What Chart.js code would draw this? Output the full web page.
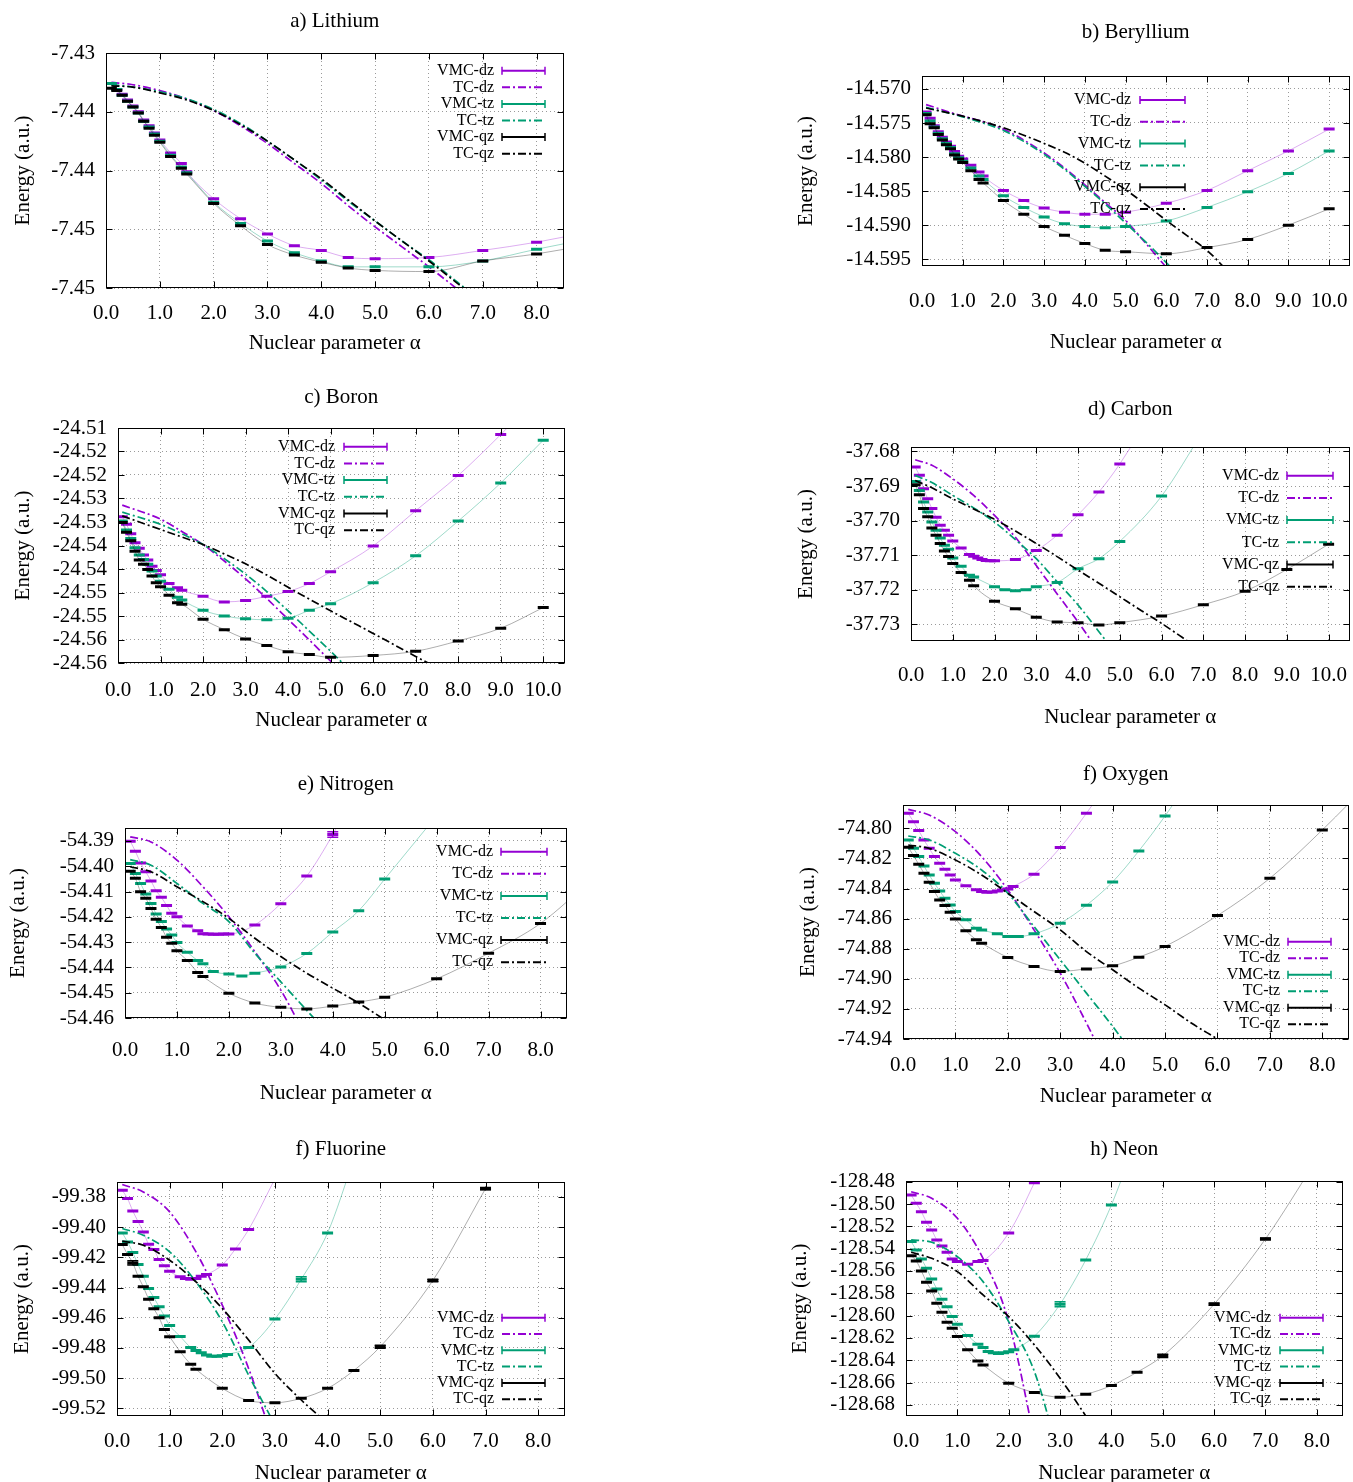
<!DOCTYPE html>
<html>
<head>
<meta charset="utf-8">
<script src="https://cdn.jsdelivr.net/npm/chart.js@4.4.1/dist/chart.umd.min.js"></script>
<style>
html, body { margin: 0; padding: 0; background: #fff; overflow: hidden; }
body { width: 1353px; height: 1482px; position: relative; }
canvas { position: absolute; }
</style>
</head>
<body>
<script>
// ---- tick labels ----
const x8Ticks = [0, 1, 2, 3, 4, 5, 6, 7, 8];
const x8Labels = ['0.0', '1.0', '2.0', '3.0', '4.0', '5.0', '6.0', '7.0', '8.0'];
const x10Ticks = [0, 1, 2, 3, 4, 5, 6, 7, 8, 9, 10];
const x10Labels = ['0.0', '1.0', '2.0', '3.0', '4.0', '5.0', '6.0', '7.0', '8.0', '9.0', '10.0'];

// ---- a) Lithium ----
const liAlpha = [0.1,0.2,0.3,0.4,0.5,0.6,0.7,0.8,0.9,1.0,1.2,1.4,1.5,2.0,2.5,3.0,3.5,4.0,4.5,5.0,6.0,7.0,8.0,9.0];
const liDz = [-7.4326,-7.4331,-7.4335,-7.4340,-7.4345,-7.4350,-7.4357,-7.4362,-7.4368,-7.4374,-7.4385,-7.4394,-7.4401,-7.4424,-7.4441,-7.4454,-7.4464,-7.4468,-7.4474,-7.4475,-7.4474,-7.4468,-7.4461,-7.4452];
const liTz = [-7.4326,-7.4331,-7.4336,-7.4341,-7.4346,-7.4351,-7.4358,-7.4363,-7.4369,-7.4375,-7.4387,-7.4397,-7.4402,-7.4427,-7.4445,-7.4460,-7.4470,-7.4477,-7.4482,-7.4482,-7.4482,-7.4477,-7.4467,-7.4458];
const liQz = [-7.4330,-7.4332,-7.4336,-7.4341,-7.4346,-7.4351,-7.4358,-7.4364,-7.4370,-7.4376,-7.4388,-7.4398,-7.4403,-7.4428,-7.4447,-7.4463,-7.4472,-7.4478,-7.4483,-7.4485,-7.4486,-7.4477,-7.4471,-7.4463];
const liTcAlpha = [0.1,0.5,1.0,1.5,2.0,2.5,3.0,3.5,4.0,4.5,5.0,5.5,6.0,6.5,7.0];
const liTcDz = [-7.4325,-7.4327,-7.4332,-7.4339,-7.4349,-7.4362,-7.4377,-7.4394,-7.4411,-7.4430,-7.4448,-7.4465,-7.4482,-7.4500,-7.4518];
const liTcTz = [-7.4327,-7.4329,-7.4333,-7.4339,-7.4348,-7.4360,-7.4375,-7.4391,-7.4408,-7.4426,-7.4443,-7.4460,-7.4476,-7.4494,-7.4512];
const liTcQz = [-7.4328,-7.4329,-7.4334,-7.4340,-7.4349,-7.4361,-7.4375,-7.4391,-7.4407,-7.4425,-7.4443,-7.4460,-7.4477,-7.4495,-7.4513];
const liYTicks = [-7.450,-7.445,-7.440,-7.435,-7.430];
const liYLabels = ['-7.45','-7.45','-7.44','-7.44','-7.43'];

// ---- b) Beryllium ----
const beAlpha = [0.1,0.2,0.3,0.4,0.5,0.6,0.7,0.8,0.9,1.0,1.2,1.4,1.5,2.0,2.5,3.0,3.5,4.0,4.5,5.0,6.0,7.0,8.0,9.0,10.0];
const beDz = [-14.5734,-14.5743,-14.5754,-14.5763,-14.5771,-14.5778,-14.5784,-14.5792,-14.5799,-14.5803,-14.5812,-14.5822,-14.5828,-14.5849,-14.5864,-14.5875,-14.5881,-14.5884,-14.5884,-14.5881,-14.5868,-14.5849,-14.5820,-14.5791,-14.5759];
const beTz = [-14.5736,-14.5747,-14.5756,-14.5765,-14.5773,-14.5780,-14.5786,-14.5795,-14.5801,-14.5806,-14.5816,-14.5828,-14.5833,-14.5857,-14.5874,-14.5888,-14.5898,-14.5902,-14.5904,-14.5902,-14.5894,-14.5874,-14.5851,-14.5824,-14.5791];
const beQz = [-14.5738,-14.5751,-14.5757,-14.5767,-14.5775,-14.5782,-14.5788,-14.5797,-14.5803,-14.5808,-14.5820,-14.5833,-14.5838,-14.5864,-14.5884,-14.5902,-14.5915,-14.5927,-14.5937,-14.5939,-14.5942,-14.5933,-14.5921,-14.5900,-14.5876];
const beTcAlpha = [0.1,1.0,1.5,2.0,2.5,3.0,3.5,4.0,4.5,5.0,5.5,6.0,6.5,7.0,7.5];
const beTcDz = [-14.5723,-14.5740,-14.5748,-14.5759,-14.5775,-14.5794,-14.5816,-14.5841,-14.5867,-14.5893,-14.5927,-14.5962,-14.5995,-14.6030,-14.6065];
const beTcTz = [-14.5727,-14.5741,-14.5750,-14.5761,-14.5777,-14.5796,-14.5818,-14.5843,-14.5869,-14.5897,-14.5925,-14.5955,-14.5986,-14.6020,-14.6055];
const beTcQz = [-14.5728,-14.5740,-14.5748,-14.5757,-14.5768,-14.5780,-14.5793,-14.5809,-14.5828,-14.5848,-14.5870,-14.5893,-14.5915,-14.5937,-14.5967];
const beYTicks = [-14.595,-14.590,-14.585,-14.580,-14.575,-14.570];
const beYLabels = ['-14.595','-14.590','-14.585','-14.580','-14.575','-14.570'];

// ---- c) Boron ----
const bAlpha = [0.1,0.2,0.3,0.4,0.5,0.6,0.7,0.8,0.9,1.0,1.2,1.4,1.5,2.0,2.5,3.0,3.5,4.0,4.5,5.0,6.0,7.0,8.0,9.0,10.0];
const bDz = [-24.5289,-24.5305,-24.5325,-24.5344,-24.5356,-24.5370,-24.5381,-24.5394,-24.5403,-24.5412,-24.5431,-24.5440,-24.5445,-24.5458,-24.5470,-24.5467,-24.5458,-24.5448,-24.5431,-24.5406,-24.5351,-24.5276,-24.5201,-24.5114,-24.5020];
const bTz = [-24.5298,-24.5317,-24.5335,-24.5355,-24.5370,-24.5380,-24.5390,-24.5404,-24.5415,-24.5426,-24.5443,-24.5460,-24.5466,-24.5488,-24.5500,-24.5506,-24.5508,-24.5505,-24.5488,-24.5474,-24.5429,-24.5372,-24.5298,-24.5217,-24.5126];
const bQz = [-24.5301,-24.5322,-24.5340,-24.5362,-24.5381,-24.5390,-24.5401,-24.5415,-24.5429,-24.5438,-24.5456,-24.5472,-24.5475,-24.5507,-24.5529,-24.5549,-24.5563,-24.5576,-24.5582,-24.5588,-24.5584,-24.5575,-24.5553,-24.5526,-24.5482];
const bTcAlpha = [0.1,1.0,1.5,2.0,2.5,3.0,3.5,4.0,4.5,5.0,5.5,6.0,7.0,7.5];
const bTcDz = [-24.5264,-24.5294,-24.5320,-24.5348,-24.5383,-24.5421,-24.5463,-24.5507,-24.5551,-24.5596,-24.5640,-24.5685,-24.5775,-24.5820];
const bTcTz = [-24.5279,-24.5305,-24.5325,-24.5348,-24.5378,-24.5411,-24.5448,-24.5489,-24.5532,-24.5575,-24.5620,-24.5665,-24.5755,-24.5800];
const bTcQz = [-24.5287,-24.5316,-24.5332,-24.5348,-24.5368,-24.5389,-24.5413,-24.5439,-24.5464,-24.5489,-24.5513,-24.5537,-24.5586,-24.5610];
const bYTicks = [-24.560,-24.555,-24.550,-24.545,-24.540,-24.535,-24.530,-24.525,-24.520,-24.515,-24.510];
const bYLabels = ['-24.56','-24.56','-24.55','-24.55','-24.54','-24.54','-24.53','-24.53','-24.52','-24.52','-24.51'];

// ---- d) Carbon ----
const cAlpha = [0.1,0.2,0.3,0.4,0.5,0.6,0.7,0.8,0.9,1.0,1.2,1.4,1.5,1.6,1.7,1.8,1.9,2.0,2.25,2.5,2.75,3.0,3.5,4.0,4.5,5.0,6.0,7.0,8.0,9.0,10.0];
const cDz = [-37.6845,-37.6869,-37.6908,-37.6937,-37.6965,-37.6990,-37.7013,-37.7028,-37.7042,-37.7059,-37.7079,-37.7098,-37.7103,-37.7108,-37.7112,-37.7115,-37.7116,-37.7116,null,-37.7112,null,-37.7086,-37.7042,-37.6983,-37.6917,-37.6836,-37.6640,null,null,null,null];
const cTz = [-37.6887,-37.6913,-37.6946,-37.6975,-37.7004,-37.7028,-37.7050,-37.7071,-37.7083,-37.7108,-37.7132,-37.7158,-37.7163,null,null,null,null,-37.7191,-37.7200,-37.7203,-37.7200,-37.7191,-37.7179,-37.7139,-37.7110,-37.7060,-37.6929,-37.6740,null,null,null];
const cQz = [-37.6896,-37.6925,-37.6965,-37.6989,-37.7021,-37.7042,-37.7066,-37.7088,-37.7104,-37.7124,-37.7150,-37.7172,-37.7188,null,null,null,null,-37.7233,null,-37.7255,null,-37.7279,-37.7293,-37.7295,-37.7302,-37.7295,-37.7276,-37.7243,-37.7204,-37.7141,-37.7068];
const cTcAlpha = [0.1,0.5,1.0,1.5,2.0,2.5,3.0,3.5,4.0,4.5,5.0,5.5,6.0,6.5,7.0];
const cTcDz = [-37.6824,-37.6840,-37.6879,-37.6927,-37.6985,-37.7048,-37.7130,-37.7212,-37.7293,-37.7380,-37.7470,null,null,null,null];
const cTcTz = [-37.6869,-37.6890,-37.6927,-37.6963,-37.7004,-37.7055,-37.7110,-37.7177,-37.7244,-37.7321,-37.7400,null,null,null,null];
const cTcQz = [-37.6884,-37.6905,-37.6937,-37.6966,-37.6996,-37.7030,-37.7066,-37.7104,-37.7143,-37.7181,-37.7220,-37.7259,-37.7297,-37.7338,-37.7380];
const cYTicks = [-37.73,-37.72,-37.71,-37.70,-37.69,-37.68];
const cYLabels = ['-37.73','-37.72','-37.71','-37.70','-37.69','-37.68'];

// ---- e) Nitrogen ----
const nAlpha = [0.1,0.2,0.3,0.4,0.5,0.6,0.7,0.8,0.9,1.0,1.2,1.4,1.5,1.6,1.7,1.8,1.9,2.0,2.25,2.5,3.0,3.5,4.0,4.5,5.0,6.0,7.0,8.0,9.0];
const nDz = [-54.3901,-54.3941,-54.3987,-54.4022,-54.4058,-54.4097,-54.4123,-54.4155,-54.4186,-54.4200,-54.4236,-54.4255,-54.4267,-54.4268,-54.4269,-54.4269,-54.4268,-54.4268,null,-54.4232,-54.4148,-54.4039,-54.3875,-54.3680,null,null,null,null,null];
const nTz = [-54.3989,-54.4029,-54.4068,-54.4110,-54.4147,-54.4189,-54.4219,-54.4248,-54.4272,-54.4302,-54.4340,-54.4373,-54.4386,null,-54.4416,null,null,-54.4426,-54.4434,-54.4423,-54.4398,-54.4345,-54.4260,-54.4176,-54.4051,-54.3800,null,null,null];
const nQz = [-54.4020,-54.4048,-54.4101,-54.4127,-54.4167,-54.4210,-54.4242,-54.4281,-54.4305,-54.4334,-54.4373,-54.4420,-54.4436,null,null,null,null,-54.4502,null,-54.4541,-54.4558,-54.4564,-54.4553,-54.4537,-54.4518,-54.4445,-54.4344,-54.4226,-54.4050];
const nTcAlpha = [0.1,0.5,1.0,1.5,2.0,2.5,3.0,3.5,4.0,4.5,5.0];
const nTcDz = [-54.3884,-54.3904,-54.3976,-54.4081,-54.4200,-54.4338,-54.4490,-54.4680,null,null,null];
const nTcTz = [-54.3974,-54.3996,-54.4068,-54.4147,-54.4219,-54.4344,-54.4457,-54.4570,-54.4680,null,null];
const nTcQz = [-54.4002,-54.4022,-54.4081,-54.4140,-54.4206,-54.4285,-54.4357,-54.4423,-54.4482,-54.4541,-54.4607];
const nYTicks = [-54.46,-54.45,-54.44,-54.43,-54.42,-54.41,-54.40,-54.39];
const nYLabels = ['-54.46','-54.45','-54.44','-54.43','-54.42','-54.41','-54.40','-54.39'];
const nErr = [[0, 4.0, 0.0011]];

// ---- f) Oxygen ----
const oAlpha = [0.1,0.2,0.3,0.4,0.5,0.6,0.7,0.8,0.9,1.0,1.2,1.4,1.5,1.6,1.7,1.8,1.9,2.0,2.1,2.2,2.5,3.0,3.5,4.0,4.5,5.0,6.0,7.0,8.0,9.0];
const oDz = [-74.7900,-74.7956,-74.8015,-74.8077,-74.8133,-74.8188,-74.8232,-74.8272,-74.8310,-74.8343,-74.8381,-74.8409,-74.8420,-74.8425,-74.8423,-74.8416,-74.8410,-74.8403,-74.8387,null,-74.8305,-74.8128,-74.7900,-74.7650,null,null,null,null,null,null];
const oTz = [-74.8077,-74.8133,-74.8188,-74.8250,-74.8310,-74.8365,-74.8416,-74.8465,-74.8509,-74.8553,-74.8608,-74.8664,-74.8675,null,null,-74.8701,null,-74.8719,null,-74.8719,-74.8701,-74.8631,-74.8511,-74.8356,-74.8150,-74.7918,-74.7400,null,null,null];
const oQz = [-74.8126,-74.8181,-74.8239,-74.8299,-74.8358,-74.8420,-74.8476,-74.8513,-74.8558,-74.8602,-74.8681,-74.8741,-74.8763,null,null,null,null,-74.8858,null,null,-74.8918,-74.8951,-74.8934,-74.8914,-74.8856,-74.8785,-74.8580,-74.8332,-74.8011,-74.7660];
const oTcAlpha = [0.1,0.5,1.0,1.5,2.0,2.5,3.0,3.5,4.0,4.5,5.0,5.5,6.0,6.5];
const oTcDz = [-74.7874,-74.7912,-74.8022,-74.8188,-74.8409,-74.8675,-74.8962,-74.9294,-74.9650,null,null,null,null,null];
const oTcTz = [-74.8051,-74.8077,-74.8166,-74.8277,-74.8431,-74.8653,-74.8874,-74.9095,-74.9316,-74.9550,null,null,null,null];
const oTcQz = [-74.8111,-74.8133,-74.8210,-74.8310,-74.8431,-74.8553,-74.8675,-74.8819,-74.8940,-74.9062,-74.9173,-74.9294,-74.9400,-74.9510];
const oYTicks = [-74.94,-74.92,-74.90,-74.88,-74.86,-74.84,-74.82,-74.80];
const oYLabels = ['-74.94','-74.92','-74.90','-74.88','-74.86','-74.84','-74.82','-74.80'];

// ---- f) Fluorine ----
const fAlpha = [0.1,0.2,0.3,0.4,0.5,0.6,0.7,0.8,0.9,1.0,1.2,1.3,1.4,1.5,1.6,1.7,1.8,1.9,2.0,2.1,2.25,2.5,3.0,3.5,4.0,4.5,5.0,6.0,7.0];
const fDz = [-99.3756,-99.3811,-99.3893,-99.3963,-99.4032,-99.4113,-99.4148,-99.4215,-99.4256,-99.4292,-99.4329,-99.4340,-99.4345,-99.4340,-99.4325,-99.4314,null,null,-99.4250,null,-99.4144,-99.4016,-99.3680,null,null,null,null,null,null];
const fTz = [-99.4038,-99.4098,-99.4168,-99.4248,-99.4325,-99.4406,-99.4466,-99.4528,-99.4589,-99.4651,-99.4724,null,-99.4797,-99.4817,-99.4832,-99.4847,-99.4856,-99.4856,-99.4852,-99.4843,null,-99.4797,-99.4609,-99.4345,-99.4038,-99.3550,null,null,null];
const fQz = [-99.4115,-99.4181,-99.4237,-99.4325,-99.4395,-99.4477,-99.4541,-99.4600,-99.4678,-99.4726,-99.4825,null,-99.4909,-99.4942,null,null,null,null,-99.5068,null,null,-99.5149,-99.5163,-99.5134,-99.5068,-99.4949,-99.4792,-99.4353,-99.3745];
const fTcAlpha = [0.1,0.5,1.0,1.5,2.0,2.5,3.0,3.5,4.0];
const fTcDz = [-99.3718,-99.3767,-99.3899,-99.4164,-99.4517,-99.4936,-99.5450,null,null];
const fTcTz = [-99.4009,-99.4054,-99.4164,-99.4362,-99.4627,-99.4980,-99.5310,null,null];
const fTcQz = [-99.4093,-99.4120,-99.4219,-99.4362,-99.4539,-99.4748,-99.4969,-99.5145,-99.5300];
const fYTicks = [-99.52,-99.50,-99.48,-99.46,-99.44,-99.42,-99.40,-99.38];
const fYLabels = ['-99.52','-99.50','-99.48','-99.46','-99.44','-99.42','-99.40','-99.38'];
const fErr = [[1, 3.5, 0.0017], [2, 0.3, 0.0014], [2, 5.0, 0.0010], [2, 6.0, 0.0008], [2, 7.0, 0.0008]];

// ---- h) Neon ----
const neAlpha = [0.1,0.2,0.3,0.4,0.5,0.6,0.7,0.8,0.9,1.0,1.2,1.4,1.5,1.6,1.7,1.8,1.9,2.0,2.1,2.5,3.0,3.5,4.0,4.5,5.0,6.0,7.0,8.0];
const neDz = [-128.4919,-128.4994,-128.5069,-128.5164,-128.5233,-128.5322,-128.5376,-128.5433,-128.5493,-128.5516,-128.5540,-128.5516,-128.5507,null,null,null,null,-128.5260,null,-128.4809,-128.4300,null,null,null,null,null,null,null];
const neTz = [-128.5337,-128.5412,-128.5493,-128.5576,-128.5672,-128.5761,-128.5854,-128.5922,-128.6009,-128.6078,-128.6179,-128.6257,-128.6287,-128.6322,-128.6334,-128.6340,-128.6334,-128.6325,-128.6307,-128.6185,-128.5898,-128.5501,-128.5009,-128.4400,null,null,null,null];
const neQz = [-128.5463,-128.5510,-128.5600,-128.5701,-128.5779,-128.5890,-128.5970,-128.6060,-128.6113,-128.6188,-128.6307,-128.6406,-128.6442,null,null,null,null,-128.6606,null,-128.6690,-128.6731,-128.6704,-128.6627,-128.6507,-128.6361,-128.5898,-128.5313,-128.4600];
const neTcAlpha = [0.1,0.5,1.0,1.5,2.0,2.5,3.0,3.5,4.0];
const neTcDz = [-128.4890,-128.4949,-128.5128,-128.5487,-128.6054,-128.7100,null,null,null];
const neTcTz = [-128.5322,-128.5343,-128.5472,-128.5696,-128.6054,-128.6501,-128.7300,null,null];
const neTcQz = [-128.5433,-128.5487,-128.5606,-128.5815,-128.6009,-128.6263,-128.6561,-128.6899,-128.7250];
const neYTicks = [-128.68,-128.66,-128.64,-128.62,-128.60,-128.58,-128.56,-128.54,-128.52,-128.50,-128.48];
const neYLabels = ['-128.68','-128.66','-128.64','-128.62','-128.60','-128.58','-128.56','-128.54','-128.52','-128.50','-128.48'];
const neErr = [[1, 3.0, 0.0022], [2, 5.0, 0.0015], [2, 6.0, 0.0010], [2, 7.0, 0.0008]];

// ---- styling ----
const FONT = "'Liberation Serif', 'DejaVu Serif', serif";
const COLORS = ['#9400d3', '#009e73', '#000000'];
const LIGHT = ['rgba(148,0,211,0.32)', 'rgba(0,158,115,0.38)', 'rgba(0,0,0,0.32)'];
const NAMES = ['dz', 'tz', 'qz'];
const DASHDOT = [8, 3, 2, 3];

// box = plot frame in page pixels; leg = legend text right edge, sample x0/x1, first row y, row step
const panels = [
  { title: 'a) Lithium', alpha: liAlpha, vmc: [liDz, liTz, liQz], tcAlpha: liTcAlpha, tc: [liTcDz, liTcTz, liTcQz],
    xMax: 8.5, xTicks: x8Ticks, xLabels: x8Labels, yMin: -7.450, yMax: -7.430, yTicks: liYTicks, yLabels: liYLabels, errs: [],
    col: 0, box: { L: 106, T: 53, R: 563, B: 288 }, titleY: 21.7, xlabY: 343, ylabX: 23, tickPad: 13,
    leg: { right: 494, x0: 502, x1: 545, y0: 70.7, dy: 16.6 } },
  { title: 'b) Beryllium', alpha: beAlpha, vmc: [beDz, beTz, beQz], tcAlpha: beTcAlpha, tc: [beTcDz, beTcTz, beTcQz],
    xMax: 10.5, xTicks: x10Ticks, xLabels: x10Labels, yMin: -14.596, yMax: -14.5681, yTicks: beYTicks, yLabels: beYLabels, errs: [],
    col: 1, box: { L: 922, T: 76, R: 1349, B: 266 }, titleY: 33, xlabY: 342, ylabX: 806, tickPad: 23,
    leg: { right: 1131, x0: 1140, x1: 1185, y0: 100, dy: 21.8 } },
  { title: 'c) Boron', alpha: bAlpha, vmc: [bDz, bTz, bQz], tcAlpha: bTcAlpha, tc: [bTcDz, bTcTz, bTcQz],
    xMax: 10.5, xTicks: x10Ticks, xLabels: x10Labels, yMin: -24.560, yMax: -24.510, yTicks: bYTicks, yLabels: bYLabels, errs: [],
    col: 0, box: { L: 118, T: 428, R: 564, B: 663 }, titleY: 398, xlabY: 720, ylabX: 23, tickPad: 15,
    leg: { right: 335, x0: 344, x1: 387, y0: 446.7, dy: 16.7 } },
  { title: 'd) Carbon', alpha: cAlpha, vmc: [cDz, cTz, cQz], tcAlpha: cTcAlpha, tc: [cTcDz, cTcTz, cTcQz],
    xMax: 10.5, xTicks: x10Ticks, xLabels: x10Labels, yMin: -37.7348, yMax: -37.6787, yTicks: cYTicks, yLabels: cYLabels, errs: [],
    col: 1, box: { L: 911, T: 447, R: 1349, B: 641 }, titleY: 410, xlabY: 717, ylabX: 806, tickPad: 22,
    leg: { right: 1279, x0: 1287, x1: 1333, y0: 475.7, dy: 22.2 } },
  { title: 'e) Nitrogen', alpha: nAlpha, vmc: [nDz, nTz, nQz], tcAlpha: nTcAlpha, tc: [nTcDz, nTcTz, nTcQz],
    xMax: 8.5, xTicks: x8Ticks, xLabels: x8Labels, yMin: -54.46, yMax: -54.3849, yTicks: nYTicks, yLabels: nYLabels, errs: nErr,
    col: 0, box: { L: 125, T: 828, R: 566, B: 1018 }, titleY: 785, xlabY: 1093, ylabX: 18.5, tickPad: 20,
    leg: { right: 493, x0: 501, x1: 547, y0: 851.7, dy: 22.1 } },
  { title: 'f) Oxygen', alpha: oAlpha, vmc: [oDz, oTz, oQz], tcAlpha: oTcAlpha, tc: [oTcDz, oTcTz, oTcQz],
    xMax: 8.5, xTicks: x8Ticks, xLabels: x8Labels, yMin: -74.94, yMax: -74.7845, yTicks: oYTicks, yLabels: oYLabels, errs: [],
    col: 1, box: { L: 903, T: 805, R: 1348, B: 1039 }, titleY: 775, xlabY: 1096, ylabX: 808.6, tickPad: 14,
    leg: { right: 1280, x0: 1288, x1: 1331, y0: 941.7, dy: 16.5 } },
  { title: 'f) Fluorine', alpha: fAlpha, vmc: [fDz, fTz, fQz], tcAlpha: fTcAlpha, tc: [fTcDz, fTcTz, fTcQz],
    xMax: 8.5, xTicks: x8Ticks, xLabels: x8Labels, yMin: -99.5251, yMax: -99.3701, yTicks: fYTicks, yLabels: fYLabels, errs: fErr,
    col: 0, box: { L: 117, T: 1182, R: 564, B: 1416 }, titleY: 1150, xlabY: 1473, ylabX: 22, tickPad: 13,
    leg: { right: 494, x0: 502, x1: 545, y0: 1317.7, dy: 16.3 } },
  { title: 'h) Neon', alpha: neAlpha, vmc: [neDz, neTz, neQz], tcAlpha: neTcAlpha, tc: [neTcDz, neTcTz, neTcQz],
    xMax: 8.5, xTicks: x8Ticks, xLabels: x8Labels, yMin: -128.69, yMax: -128.4794, yTicks: neYTicks, yLabels: neYLabels, errs: neErr,
    col: 1, box: { L: 906, T: 1181, R: 1342, B: 1416 }, titleY: 1150, xlabY: 1473, ylabX: 800, tickPad: 13,
    leg: { right: 1271, x0: 1280, x1: 1323, y0: 1317.7, dy: 16.3 } }
];

function points(xs, ys) {
  const out = [];
  xs.forEach((x, i) => { if (ys[i] !== null) out.push({ x: x, y: ys[i] }); });
  return out;
}

function noPad(sc) {
  sc.paddingLeft = 0; sc.paddingRight = 0; sc.paddingTop = 0; sc.paddingBottom = 0;
}

function makePanel(p) {
  const LH = 21 * 1.2;
  const RM = 4;
  const cx = p.col ? 780 : 0;
  const cy = Math.round(p.titleY - LH / 2);
  const h = Math.round(p.xlabY + LH / 2) - cy;
  const w = p.box.R - cx + RM;
  const titlePadB = p.box.T - cy - LH;
  const yAxisW = p.box.L - cx;
  const xAxisH = cy + h - p.box.B;
  const yTitlePad = p.ylabX - cx - LH / 2;

  const canvas = document.createElement('canvas');
  canvas.width = w; canvas.height = h;
  canvas.style.left = cx + 'px'; canvas.style.top = cy + 'px';
  canvas.style.width = w + 'px'; canvas.style.height = h + 'px';
  document.body.appendChild(canvas);

  const datasets = [];
  for (let s = 0; s < 3; s++) {
    datasets.push({
      label: 'VMC-' + NAMES[s], data: points(p.alpha, p.vmc[s]),
      borderColor: LIGHT[s], borderWidth: 1, cubicInterpolationMode: 'monotone',
      pointStyle: 'line', pointRadius: 5.5, pointBorderWidth: 3,
      pointBorderColor: COLORS[s], pointBackgroundColor: COLORS[s], order: 6 - 2 * s
    });
    datasets.push({
      label: 'TC-' + NAMES[s], data: points(p.tcAlpha, p.tc[s]),
      borderColor: COLORS[s], borderWidth: 1.7, borderDash: DASHDOT, cubicInterpolationMode: 'monotone',
      pointRadius: 0, order: 5 - 2 * s
    });
  }

  const font = { family: FONT, size: 21, weight: 'normal' };

  const extras = {
    id: 'extras',
    afterDatasetsDraw(chart) {
      const ctx = chart.ctx, a = chart.chartArea;
      const xs = chart.scales.x, ys = chart.scales.y;
      ctx.save();
      // larger error bars
      p.errs.forEach(([s, x, e]) => {
        const y = p.vmc[s][p.alpha.indexOf(x)];
        const px = xs.getPixelForValue(x);
        const y1 = ys.getPixelForValue(y + e), y2 = ys.getPixelForValue(y - e);
        ctx.strokeStyle = COLORS[s]; ctx.lineWidth = 1.5; ctx.setLineDash([]);
        ctx.beginPath();
        ctx.moveTo(px, y1); ctx.lineTo(px, y2);
        ctx.moveTo(px - 5.5, y1); ctx.lineTo(px + 5.5, y1);
        ctx.moveTo(px - 5.5, y2); ctx.lineTo(px + 5.5, y2);
        ctx.stroke();
      });
      // frame with inward tick marks
      const l = Math.round(a.left) + 0.5, t = Math.round(a.top) + 0.5;
      const r = Math.round(a.right) - 0.5, b = Math.round(a.bottom) - 0.5;
      ctx.strokeStyle = '#000'; ctx.lineWidth = 1; ctx.setLineDash([]);
      ctx.strokeRect(l, t, r - l, b - t);
      ctx.beginPath();
      p.xTicks.forEach(v => {
        const px = Math.round(xs.getPixelForValue(v)) + 0.5;
        ctx.moveTo(px, b); ctx.lineTo(px, b - 6);
        ctx.moveTo(px, t); ctx.lineTo(px, t + 6);
      });
      p.yTicks.forEach(v => {
        const py = Math.round(ys.getPixelForValue(v)) + 0.5;
        ctx.moveTo(l, py); ctx.lineTo(l + 6, py);
        ctx.moveTo(r, py); ctx.lineTo(r - 6, py);
      });
      ctx.stroke();
      // key
      const lg = p.leg;
      ctx.font = '16px ' + FONT;
      ctx.textAlign = 'right'; ctx.textBaseline = 'middle';
      for (let i = 0; i < 6; i++) {
        const s = Math.floor(i / 2), tc = i % 2 === 1;
        const y = lg.y0 + i * lg.dy - cy;
        ctx.fillStyle = '#000';
        ctx.fillText((tc ? 'TC-' : 'VMC-') + NAMES[s], lg.right - cx, y);
        ctx.strokeStyle = COLORS[s];
        ctx.lineWidth = 2;
        ctx.setLineDash(tc ? DASHDOT : []);
        ctx.beginPath();
        ctx.moveTo(lg.x0 - cx, y); ctx.lineTo(lg.x1 - cx, y);
        ctx.stroke();
        if (!tc) {
          ctx.setLineDash([]);
          ctx.lineWidth = 1.5;
          ctx.beginPath();
          ctx.moveTo(lg.x0 - cx, y - 4); ctx.lineTo(lg.x0 - cx, y + 4);
          ctx.moveTo(lg.x1 - cx, y - 4); ctx.lineTo(lg.x1 - cx, y + 4);
          ctx.stroke();
        }
      }
      ctx.restore();
    }
  };

  const chart = new Chart(canvas, {
    type: 'line',
    data: { datasets: datasets },
    options: {
      responsive: false,
      maintainAspectRatio: false,
      animation: false,
      events: [],
      layout: { padding: { left: 0, top: 0, bottom: 0, right: RM } },
      plugins: {
        legend: { display: false },
        tooltip: { enabled: false },
        title: { display: true, text: p.title, color: '#000', font: font, fullSize: false,
          padding: { top: 0, bottom: titlePadB } }
      },
      scales: {
        x: {
          type: 'linear', min: 0, max: p.xMax,
          afterBuildTicks: sc => { sc.ticks = p.xTicks.map(v => ({ value: v })); },
          afterFit: sc => { sc.height = xAxisH; noPad(sc); },
          ticks: { autoSkip: false, maxRotation: 0, padding: p.tickPad, color: '#000', font: font,
            callback: (v, i) => p.xLabels[i] },
          grid: { color: '#9a9a9a', lineWidth: 1, drawTicks: false },
          border: { display: false, dash: [1, 3] },
          title: { display: true, text: 'Nuclear parameter α', color: '#000', font: font, padding: { top: 0, bottom: 0 } }
        },
        y: {
          type: 'linear', min: p.yMin, max: p.yMax,
          afterBuildTicks: sc => { sc.ticks = p.yTicks.map(v => ({ value: v })); },
          afterFit: sc => { sc.width = yAxisW; noPad(sc); },
          ticks: { autoSkip: false, padding: 11, color: '#000', font: font,
            callback: (v, i) => p.yLabels[i] },
          grid: { color: '#9a9a9a', lineWidth: 1, drawTicks: false },
          border: { display: false, dash: [1, 3] },
          title: { display: true, text: 'Energy (a.u.)', color: '#000', font: font, padding: { top: yTitlePad, bottom: 0 } }
        }
      }
    },
    plugins: [extras]
  });

  // widen the canvas if the layout left the plot frame short of its right edge
  const dx = Math.round((p.box.R - cx) - chart.chartArea.right);
  if (dx !== 0) {
    chart.resize(w + dx, h);
    canvas.style.left = cx + 'px'; canvas.style.top = cy + 'px';
  }
}

panels.forEach(makePanel);
</script>
</body>
</html>
